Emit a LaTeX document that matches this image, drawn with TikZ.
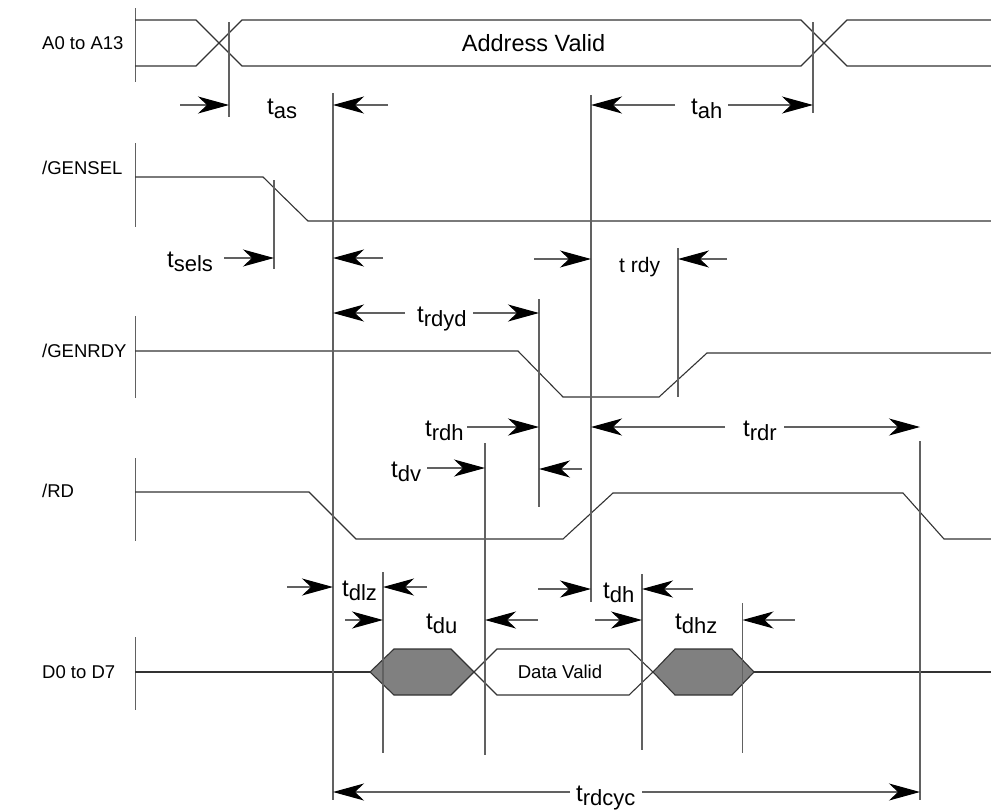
\documentclass[tikz,border=0pt]{standalone}
\usepackage{fontspec}
\setmainfont{Liberation Sans}
\usetikzlibrary{arrows.meta}
\newcommand{\tsub}[1]{{\fontsize{24}{24}\selectfont t}\raisebox{-4.5pt}{\fontsize{22}{22}\selectfont #1}}
\begin{document}
\begin{tikzpicture}[x=1pt,y=-1pt,
  sig/.style={line width=1.1pt, draw=black!80},
  vline/.style={line width=1.1pt, draw=black!62},
  dim/.style={line width=1.1pt, draw=black!62, -{Stealth[length=31pt,width=17pt,inset=9pt,color=black]}},
  lab/.style={font=\fontsize{18.5}{20}\selectfont, anchor=base west, inner sep=0},
  tl/.style={anchor=base west, inner sep=0},
  hexg/.style={fill=black!50, draw=black!80, line width=1.1pt},
]
\useasboundingbox (0,0) rectangle (991,809);
% ---------- signal names ----------
\node[lab] (nA) at (42,49.5) {A0 to A13};
\node[lab] (nS) at (42,174.5) {/GENSEL};
\node[lab] (nR) at (42,357.5) {/GENRDY};
\node[lab] (nD) at (42,497.5) {/RD};
\node[lab] (nQ) at (42,678.5) {D0 to D7};
% ---------- start markers ----------
\draw[vline] (135.5,8) -- (135.5,82);
\draw[vline] (135.5,143) -- (135.5,227);
\draw[vline] (135.5,316) -- (135.5,398);
\draw[vline] (135.5,458) -- (135.5,541);
\draw[vline] (135.5,637) -- (135.5,710);
% ---------- address bus ----------
\draw[sig] (135,20) -- (196,20) -- (242,66) -- (801,66) -- (847,20) -- (991,20);
\draw[sig] (135,66) -- (196,66) -- (242,20) -- (801,20) -- (847,66) -- (991,66);
\node[font=\fontsize{23.5}{24}\selectfont, inner sep=0] (av) at (533.5,43) {Address Valid};
% ---------- GENSEL ----------
\draw[sig] (135,177) -- (263,177) -- (308,221) -- (991,221);
% ---------- GENRDY ----------
\draw[sig] (135,351) -- (518,351) -- (563,397) -- (659,397) -- (707,353) -- (991,353);
% ---------- RD ----------
\draw[sig] (135,492) -- (309,492) -- (356,539) -- (563,539) -- (613,493) -- (903,493) -- (944,539) -- (991,539);
% ---------- data bus ----------
\draw[sig] (135,672) -- (370,672);
\draw[sig] (754,672) -- (991,672);
\draw[hexg] (370,672) -- (394,649) -- (451,649) -- (474,672) -- (451,695) -- (394,695) -- cycle;
\draw[sig] (474,672) -- (497,649) -- (629,649) -- (653,672) -- (629,695) -- (497,695) -- cycle;
\draw[hexg] (653,672) -- (675,649) -- (732,649) -- (754,672) -- (732,695) -- (675,695) -- cycle;
\node[font=\fontsize{18.6}{20}\selectfont, inner sep=0] (dv) at (560,672) {Data Valid};
% ---------- reference verticals ----------
\draw[vline] (229,22) -- (229,117);
\draw[vline] (813,22) -- (813,113);
\draw[vline] (333,93) -- (333,800);
\draw[vline] (591,95) -- (591,602);
\draw[vline] (274,180) -- (274,269);
\draw[vline] (678,248) -- (678,397);
\draw[vline] (539,299) -- (539,507);
\draw[vline] (485,443) -- (485,755);
\draw[vline] (920,441) -- (920,800);
\draw[vline] (383,572) -- (383,753);
\draw[vline] (642,574) -- (642,750);
\draw[vline] (742.5,603) -- (742.5,753);
% ---------- timing arrows and labels ----------
% t_as
\draw[dim] (180,105) -- (229,105);
\draw[dim] (388,105) -- (333,105);
\node[tl] (tas) at (267,114) {\tsub{as}};
% t_ah
\draw[dim] (675,105) -- (591,105);
\draw[dim] (728,105) -- (813,105);
\node[tl] (tah) at (691,114) {\tsub{ah}};
% t_sels
\draw[dim] (224,258) -- (274,258);
\draw[dim] (383,258) -- (333,258);
\node[tl] (tsels) at (167,267) {\tsub{sels}};
% t rdy
\draw[dim] (534,259) -- (591,259);
\draw[dim] (727,259) -- (678,259);
\node[tl, font=\fontsize{21}{22}\selectfont] (trdy) at (619,272.5) {t rdy};
% t_rdyd
\draw[dim] (405,313) -- (333,313);
\draw[dim] (473,313) -- (539,313);
\node[tl] (trdyd) at (417,322) {\tsub{rdyd}};
% t_rdh
\draw[dim] (467,427) -- (539,427);
\node[tl] (trdh) at (425,436) {\tsub{rdh}};
% t_rdr
\draw[dim] (725,427) -- (591,427);
\draw[dim] (784,427) -- (920,427);
\node[tl] (trdr) at (743,436) {\tsub{rdr}};
% t_dv
\draw[dim] (427,468) -- (485,468);
\draw[dim] (582,469) -- (539,469);
\node[tl] (tdv) at (391,477) {\tsub{dv}};
% t_dlz
\draw[dim] (287,587) -- (333,587);
\draw[dim] (427,587) -- (383,587);
\node[tl] (tdlz) at (342,596) {\tsub{dlz}};
% t_du
\draw[dim] (345,620) -- (383,620);
\draw[dim] (538,620) -- (485,620);
\node[tl] (tdu) at (426,629) {\tsub{du}};
% t_dh
\draw[dim] (538,589) -- (591,589);
\draw[dim] (693,589) -- (642,589);
\node[tl] (tdh) at (603,598) {\tsub{dh}};
% t_dhz
\draw[dim] (595,620) -- (642,620);
\draw[dim] (795,620) -- (742.5,620);
\node[tl] (tdhz) at (675,629) {\tsub{dhz}};
% t_rdcyc
\draw[dim] (570,792) -- (333,792);
\draw[dim] (642,792) -- (920,792);
\node[tl] (trdcyc) at (576,801) {\tsub{rdcyc}};
\end{tikzpicture}
\end{document}
